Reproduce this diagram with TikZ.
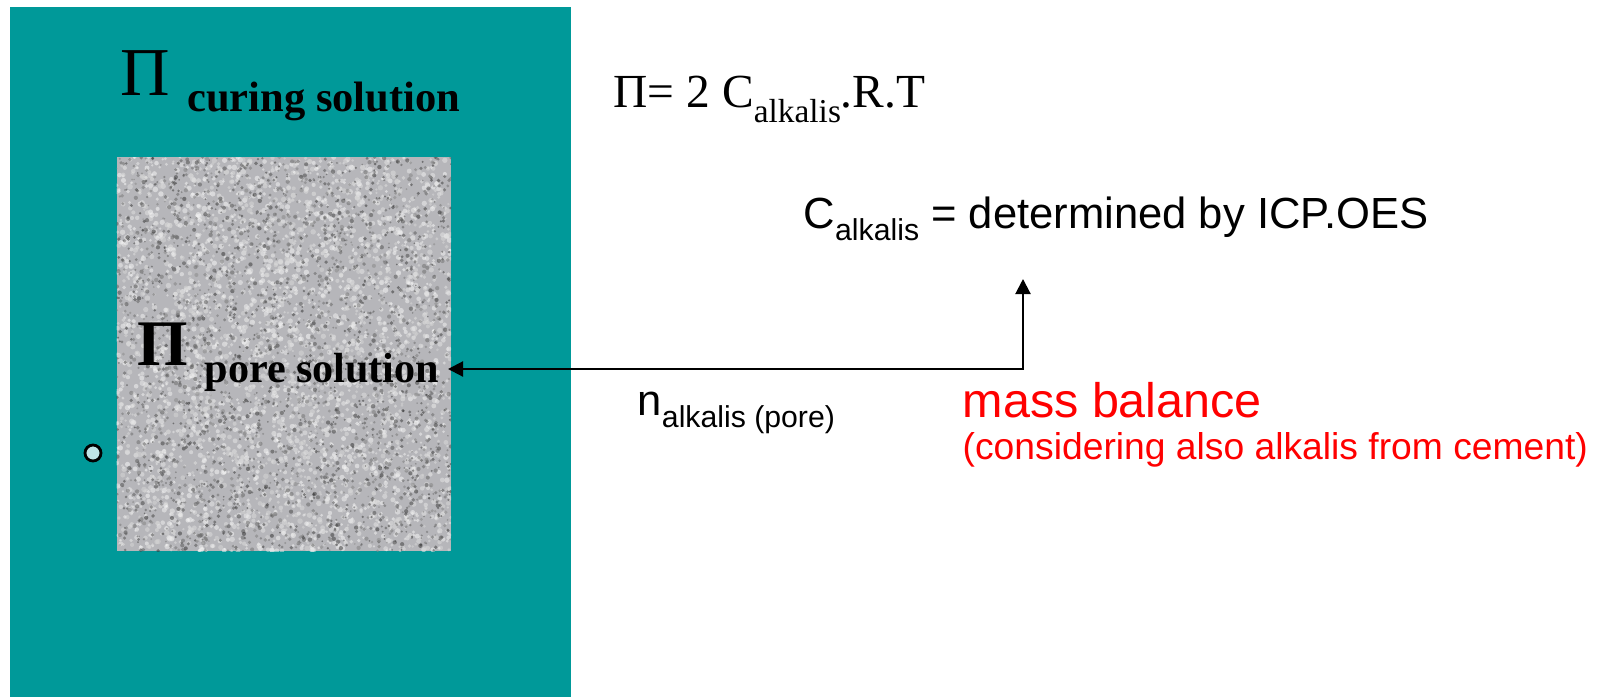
\documentclass[tikz,border=0pt]{standalone}
\usepackage{fontspec}
\setmainfont{Liberation Serif}
\newfontfamily\arialfont{Liberation Sans}
\usetikzlibrary{arrows.meta}
\definecolor{slideteal}{RGB}{0,153,153}
\definecolor{poregray}{RGB}{182,182,186}
\definecolor{dotcyan}{RGB}{190,228,230}
\definecolor{massred}{RGB}{255,0,0}
\tikzset{
  pilbl/.style={inner sep=0pt, anchor=base west, font=\bfseries},
  serifeq/.style={inner sep=0pt, anchor=base west, font=\fontsize{13.5}{16}\selectfont},
  sanslbl/.style={inner sep=0pt, anchor=base west, font=\arialfont\fontsize{12.4}{14}\selectfont},
  redlbl/.style={inner sep=0pt, anchor=base west, text=massred,
      font=\arialfont\fontsize{#1}{#1}\selectfont},
  linkarrow/.style={{Triangle[length=1.5mm,width=1.5mm]}-{Triangle[length=1.5mm,width=1.5mm]},
      line width=0.6pt, black},
}
% lowered, smaller text after a symbol
\newcommand{\subtxt}[3]{\raisebox{-#1}{\fontsize{#2}{#2}\selectfont #3}}

\begin{document}
\begin{tikzpicture}
  \useasboundingbox (0,0) rectangle (16.08,-6.98);
  % curing bath and specimen
  \fill[slideteal] (0.10,-0.07) rectangle (5.71,-6.97);
  \fill[poregray] (1.165,-1.57) rectangle (4.51,-5.51);
  \begin{scope}
    \clip (1.165,-1.57) rectangle (4.51,-5.51);
    \pgfmathsetseed{7}
    \foreach \k in {1,...,3800}{
      \pgfmathsetmacro{\px}{1.165+3.345*rnd}
      \pgfmathsetmacro{\py}{-1.57-3.94*rnd}
      \pgfmathsetmacro{\pr}{0.012+0.016*rnd}
      \pgfmathtruncatemacro{\pk}{3+15*rnd}
      \fill[black!\pk, fill opacity=0.55] (\px,\py) circle (\pr);
    }
    \foreach \k in {1,...,2800}{
      \pgfmathsetmacro{\px}{1.165+3.345*rnd}
      \pgfmathsetmacro{\py}{-1.57-3.94*rnd}
      \pgfmathsetmacro{\pr}{0.008+0.014*rnd}
      \pgfmathtruncatemacro{\pk}{45+35*rnd}
      \fill[black!\pk, fill opacity=0.55] (\px,\py) circle (\pr);
    }
  \end{scope}

  \node[pilbl] (curing) at (1.20,-0.95)
    {\fontsize{19.5}{19}\selectfont\mdseries Π \subtxt{4.8pt}{12.1}{\bfseries curing solution}};
  \node[pilbl, anchor=base east, inner xsep=0.08cm] (pore) at (4.48,-3.65)
    {\fontsize{18.5}{18}\selectfont Π \subtxt{5.1pt}{12}{pore solution}};
  \node[circle, draw, fill=dotcyan, minimum size=0.16cm, inner sep=0pt,
    line width=0.8pt] (bullet) at (0.93,-4.53) {};

  \node[serifeq] (osmo) at (6.13,-1.07) {Π= 2 C\subtxt{4.5pt}{9.5}{alkalis}.R.T};
  \node[sanslbl] (calk) at (8.03,-2.28) {C\subtxt{3.5pt}{8.6}{alkalis} = determined by ICP.OES};
  \node[sanslbl] (nalk) at (6.37,-4.15) {n\subtxt{3.5pt}{8.6}{alkalis (pore)}};
  \node[redlbl=13.8] (mass) at (9.62,-4.17) {mass balance};
  \node[redlbl=10.6] (cement) at (9.62,-4.59) {(considering also alkalis from cement)};

  \coordinate (calkin) at (10.23,-2.79);
  \draw[linkarrow] ([yshift=-0.04cm]pore.base east) -| (calkin);
\end{tikzpicture}
\end{document}
